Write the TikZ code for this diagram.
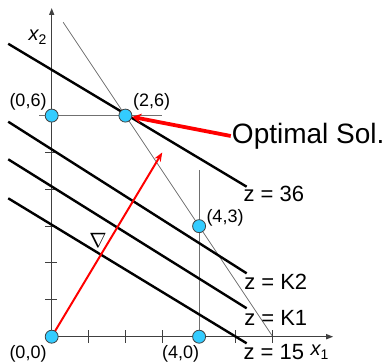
\documentclass[tikz,border=0pt]{standalone}
\usepackage{fontspec}
\setmainfont{Liberation Sans}
\usetikzlibrary{arrows.meta}
\definecolor{ptblue}{HTML}{33CCFF}
\definecolor{axisgray}{HTML}{404040}
\definecolor{thingray}{HTML}{707070}
\tikzset{
  axisline/.style={draw=axisgray, line width=1.4pt, -{Triangle[length=7pt,width=5pt]}},
  tickline/.style={draw=axisgray, line width=1pt},
  conline/.style={draw=thingray, line width=0.8pt},
  objline/.style={draw=black, line width=2.4pt},
  vertex/.style={circle, fill=ptblue, draw=axisgray, line width=0.8pt, minimum size=13pt, inner sep=0pt},
  ptlabel/.style={font=\fontsize{18}{20}\selectfont, inner sep=0pt},
  zlabel/.style={font=\fontsize{22}{24}\selectfont, inner sep=0pt, anchor=base west},
  redarrow/.style={draw=red, line width=2pt, -{Stealth[length=9pt,width=7pt]}},
  pointer/.style={draw=red, line width=3.8pt, -{Stealth[length=9pt,width=10pt]}}
}
\begin{document}
\begin{tikzpicture}[x=1pt,y=-1pt]
\useasboundingbox (0,0) rectangle (388,363);
\begin{scope}[shift={(51.7,336.7)}, x=36.85pt, y=36.85pt]
  % named coordinates
  \coordinate (xend) at (7.64,0);
  \coordinate (yend) at (0,8.92);
  \coordinate (h1) at (-0.34,6);
  \coordinate (h2) at (3.0,6);
  \coordinate (v2) at (4,4.52);
  \coordinate (c1) at (0.31,8.535);
  \coordinate (c2) at (6,0);
  \coordinate (a1) at (-1.18,7.95);  \coordinate (a2) at (5.29,4.07);
  \coordinate (b1) at (-1.18,5.834); \coordinate (b2) at (5.29,1.72);
  \coordinate (d1) at (-1.18,4.814); \coordinate (d2) at (5.29,0.771);
  \coordinate (e1) at (-1.18,3.756); \coordinate (e2) at (5.29,-0.179);
  \coordinate (grad) at (3,5);
  \coordinate (O) at (0,0);
  \coordinate (F) at (4,0);
  % constraint lines
  \draw[conline] (h1) -- (h2);
  \draw[conline] (F) -- (v2);
  \draw[conline] (c1) -- (c2);
  % ticks
  \foreach \i in {1,2,3,5,6} \draw[tickline] (\i,-0.17) -- (\i,0.17);
  \foreach \j in {1,2,3,4,5} \draw[tickline] (-0.18,\j) -- (0.14,\j);
  % axes
  \draw[axisline] (O) -- (xend);
  \draw[axisline] (O) -- (yend);
  % objective lines
  \draw[objline] (a1) -- (a2);
  \draw[objline] (b1) -- (b2);
  \draw[objline] (d1) -- (d2);
  \draw[objline] (e1) -- (e2);
  % gradient
  \draw[redarrow] (O) -- (grad);
  % vertices
  \node[vertex] (p00) at (0,0) {};
  \node[vertex] (p40) at (4,0) {};
  \node[vertex] (p06) at (0,6) {};
  \node[vertex] (p26) at (2,6) {};
  \node[vertex] (p43) at (4,3) {};
  % point labels
  \node[ptlabel] (l00) at (-0.643,-0.47) {(0,0)};
  \node[ptlabel] (l40) at (3.50,-0.47) {(4,0)};
  \node[ptlabel] (l06) at (-0.643,6.37) {(0,6)};
  \node[ptlabel] (l26) at (2.714,6.37) {(2,6)};
  \node[ptlabel] (l43) at (4.703,3.22) {(4,3)};
  % z labels
  \node[zlabel] (z36) at (5.20,3.663) {z = 36};
  \node[zlabel] (zk2) at (5.22,1.286) {z = K2};
  \node[zlabel] (zk1) at (5.22,0.30) {z = K1};
  \node[zlabel] (z15) at (5.20,-0.62) {z = 15};
  % axis labels
  \node[inner sep=0pt, anchor=base west] (x1lab) at (7.02,-0.50) {\fontsize{20}{24}\selectfont\itshape x\raisebox{-4pt}{\upshape\fontsize{14}{14}\selectfont 1}};
  \node[inner sep=0pt, anchor=base west] (x2lab) at (-0.635,8.05) {\fontsize{20}{24}\selectfont\itshape x\raisebox{-4pt}{\upshape\fontsize{14}{14}\selectfont 2}};
  % nabla
  \node[inner sep=0pt] (nab) at (1.257,2.624) {\fontsize{22}{24}\selectfont$\nabla$};
  % optimal
  \node[inner sep=1pt, anchor=base west, font=\fontsize{28}{32}\selectfont] (opt) at (4.86,5.25) {Optimal Sol.};
  \draw[pointer] (opt.west) -- (p26);
\end{scope}
\end{tikzpicture}
\end{document}
